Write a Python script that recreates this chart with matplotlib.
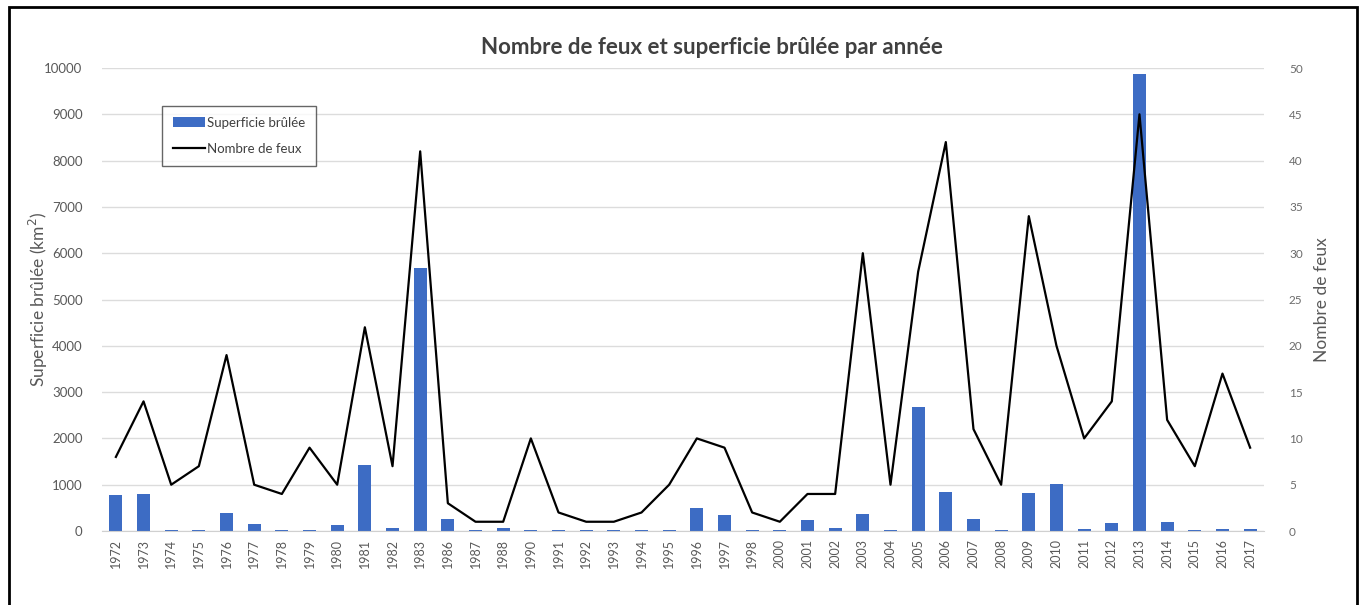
import matplotlib
matplotlib.use("Agg")
import matplotlib.pyplot as plt
import matplotlib.patches as patches
import numpy as np

# Data
years = ["1972", "1973", "1974", "1975", "1976", "1977", "1978", "1979", "1980",
         "1981", "1982", "1983", "1986", "1987", "1988", "1990", "1991", "1992",
         "1993", "1994", "1995", "1996", "1997", "1998", "2000", "2001", "2002",
         "2003", "2004", "2005", "2006", "2007", "2008", "2009", "2010", "2011",
         "2012", "2013", "2014", "2015", "2016", "2017"]
superficie = [780, 810, 20, 20, 390, 160, 15, 15, 140,
              1430, 70, 5680, 250, 20, 70, 15, 15, 15,
              20, 15, 15, 500, 340, 15, 15, 230, 70,
              370, 15, 2670, 850, 250, 15, 820, 1020, 50,
              180, 9870, 200, 15, 40, 40]
nb_feux = [8, 14, 5, 7, 19, 5, 4, 9, 5,
           22, 7, 41, 3, 1, 1, 10, 2, 1,
           1, 2, 5, 10, 9, 2, 1, 4, 4,
           30, 5, 28, 42, 11, 5, 34, 20, 10,
           14, 45, 12, 7, 17, 9]

plt.rcParams['font.family'] = ['Lato', 'DejaVu Sans']

fig = plt.figure(figsize=(13.66, 6.05), dpi=100)
ax = fig.add_axes([0.0747, 0.1223, 0.8506, 0.7653])
ax2 = ax.twinx()

x = np.arange(len(years))

# Bars - superficie
ax.bar(x, superficie, width=0.47, color='#3d6cc4', zorder=2, label='Superficie brûlée')
ax.set_ylim(0, 10000)
ax.set_yticks(np.arange(0, 10001, 1000))
ax.set_xlim(-0.5, len(years) - 0.5)
ax.set_xticks(x)
ax.set_xticklabels(years, rotation=90, fontsize=9, color='#595959')
ax.tick_params(axis='y', labelsize=9.5, colors='#595959', length=0, pad=14)
ax.tick_params(axis='x', length=0, pad=6)
ax.grid(axis='y', color='#dcdcdc', linewidth=1, zorder=0)
ax.set_axisbelow(True)
ax.set_ylabel('Superficie brûlée (km$^2$)', fontsize=12.5, color='#595959', labelpad=-4)

# Line - nombre de feux
ax2.plot(x, nb_feux, color='black', linewidth=1.6, zorder=3, label='Nombre de feux')
ax2.set_ylim(0, 50)
ax2.set_yticks(np.arange(0, 51, 5))
ax2.tick_params(axis='y', labelsize=8.5, colors='#6b6b6b', length=0, pad=18)
ax2.set_ylabel('Nombre de feux', fontsize=12.5, color='#595959', labelpad=8)

for a in (ax, ax2):
    for s in a.spines.values():
        s.set_visible(False)
ax.spines['bottom'].set_visible(True)
ax.spines['bottom'].set_color('#d0d0d0')

# Legend
h1, l1 = ax.get_legend_handles_labels()
h2, l2 = ax2.get_legend_handles_labels()
leg = ax2.legend(h1 + h2, l1 + l2, loc='upper left', bbox_to_anchor=(0.052, 0.918),
                 fontsize=9.5, frameon=True, fancybox=False, edgecolor='#404040',
                 handlelength=2.4, handletextpad=0.2, labelspacing=1.1,
                 borderpad=0.8, borderaxespad=0)
leg.get_frame().set_linewidth(1.0)
for t in leg.get_texts():
    t.set_color('#404040')

fig.text(0.521, 0.922, 'Nombre de feux et superficie brûlée par année',
         ha='center', va='center', fontsize=16, fontweight='bold', color='#404040')

# Outer frame
fig.patches.append(patches.Rectangle((0.0068, -0.02), 0.9868, 1.0085,
                                     transform=fig.transFigure, fill=False,
                                     edgecolor='black', linewidth=2))

fig.savefig('out.png', dpi=100)
